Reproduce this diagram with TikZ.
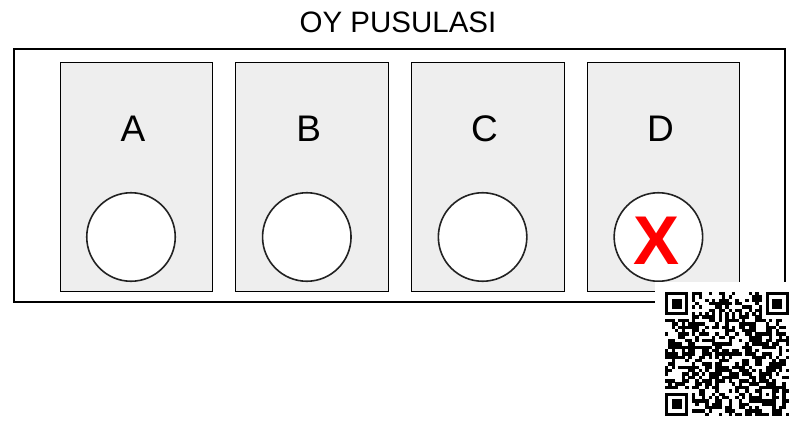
\documentclass[tikz,border=0pt]{standalone}
\usepackage{fontspec}
\setmainfont{Liberation Sans}
\usetikzlibrary{positioning}

\definecolor{boxgray}{HTML}{EEEEEE}
\definecolor{ringblack}{HTML}{222222}
\definecolor{markred}{HTML}{FF0000}

\tikzset{
    ballot box/.style={draw, line width=1pt, fill=boxgray, minimum width=152.5pt, minimum height=229pt, inner sep=0pt},
    vote circle/.style={circle, draw=ringblack, line width=1.6pt, fill=white, minimum size=88.5pt, inner sep=0pt},
    party letter/.style={inner sep=0pt, font=\fontsize{37}{40}\selectfont},
    qr mod/.style={fill=black}
}

\begin{document}
\begin{tikzpicture}[x=1pt, y=-1pt]
        \useasboundingbox (0,0) rectangle (800,428);

        \node[inner sep=0pt, font=\fontsize{29.5}{32}\selectfont] (title) at (398,22) {OY PUSULASI};
        \draw[line width=2pt] (14,49) rectangle (785,302);

        \foreach \l [count=\k from 0] in {A,B,C,D} {
            \node[ballot box] (box \l) at (136.3+175.8*\k, 177) {};
            \node[vote circle] (vote \l) at (131+175.8*\k, 237) {};
            \node[party letter] (letter \l) at (133+175.8*\k, 128.5) {\l};
        }
        \node[inner sep=0pt, text=markred, font=\bfseries\fontsize{69}{70}\selectfont] (mark D) at ([xshift=-1.5pt, yshift=-3.5pt]vote D.center) {X};

        % qr code
        \fill[white] (655,282) rectangle (800,428);
        \begin{scope}[shift={(665,292)}, x=3.35pt, y=-3.35pt]
            \pgfmathsetseed{4711}
            \foreach \i in {0,...,36} {
                \foreach \j in {0,...,36} {
                    \pgfmathtruncatemacro{\skipmod}{((\i<8)&&(\j<8)) || ((\i>28)&&(\j<8)) || ((\i<8)&&(\j>28)) || (\i==6) || (\j==6) || ((\i>27)&&(\i<33)&&(\j>27)&&(\j<33))}
                    \ifnum\skipmod=0
                        \pgfmathrandominteger{\r}{0}{1}
                        \ifnum\r=1 \fill[qr mod] (\i,\j) rectangle ++(1.02,1.02); \fi
                    \fi
                }
            }
            \foreach \k in {8,10,...,28} {
                \fill[qr mod] (\k,6) rectangle ++(1.02,1.02);
                \fill[qr mod] (6,\k) rectangle ++(1.02,1.02);
            }
            \foreach \fx/\fy in {0/0, 30/0, 0/30} {
                \fill[qr mod] (\fx,\fy) rectangle ++(7,7);
                \fill[white] (\fx+1,\fy+1) rectangle ++(5,5);
                \fill[qr mod] (\fx+2,\fy+2) rectangle ++(3,3);
            }
            \fill[qr mod] (28,28) rectangle ++(5,5);
            \fill[white] (29,29) rectangle ++(3,3);
            \fill[qr mod] (30,30) rectangle ++(1,1);
        \end{scope}
    \end{tikzpicture}
\end{document}
